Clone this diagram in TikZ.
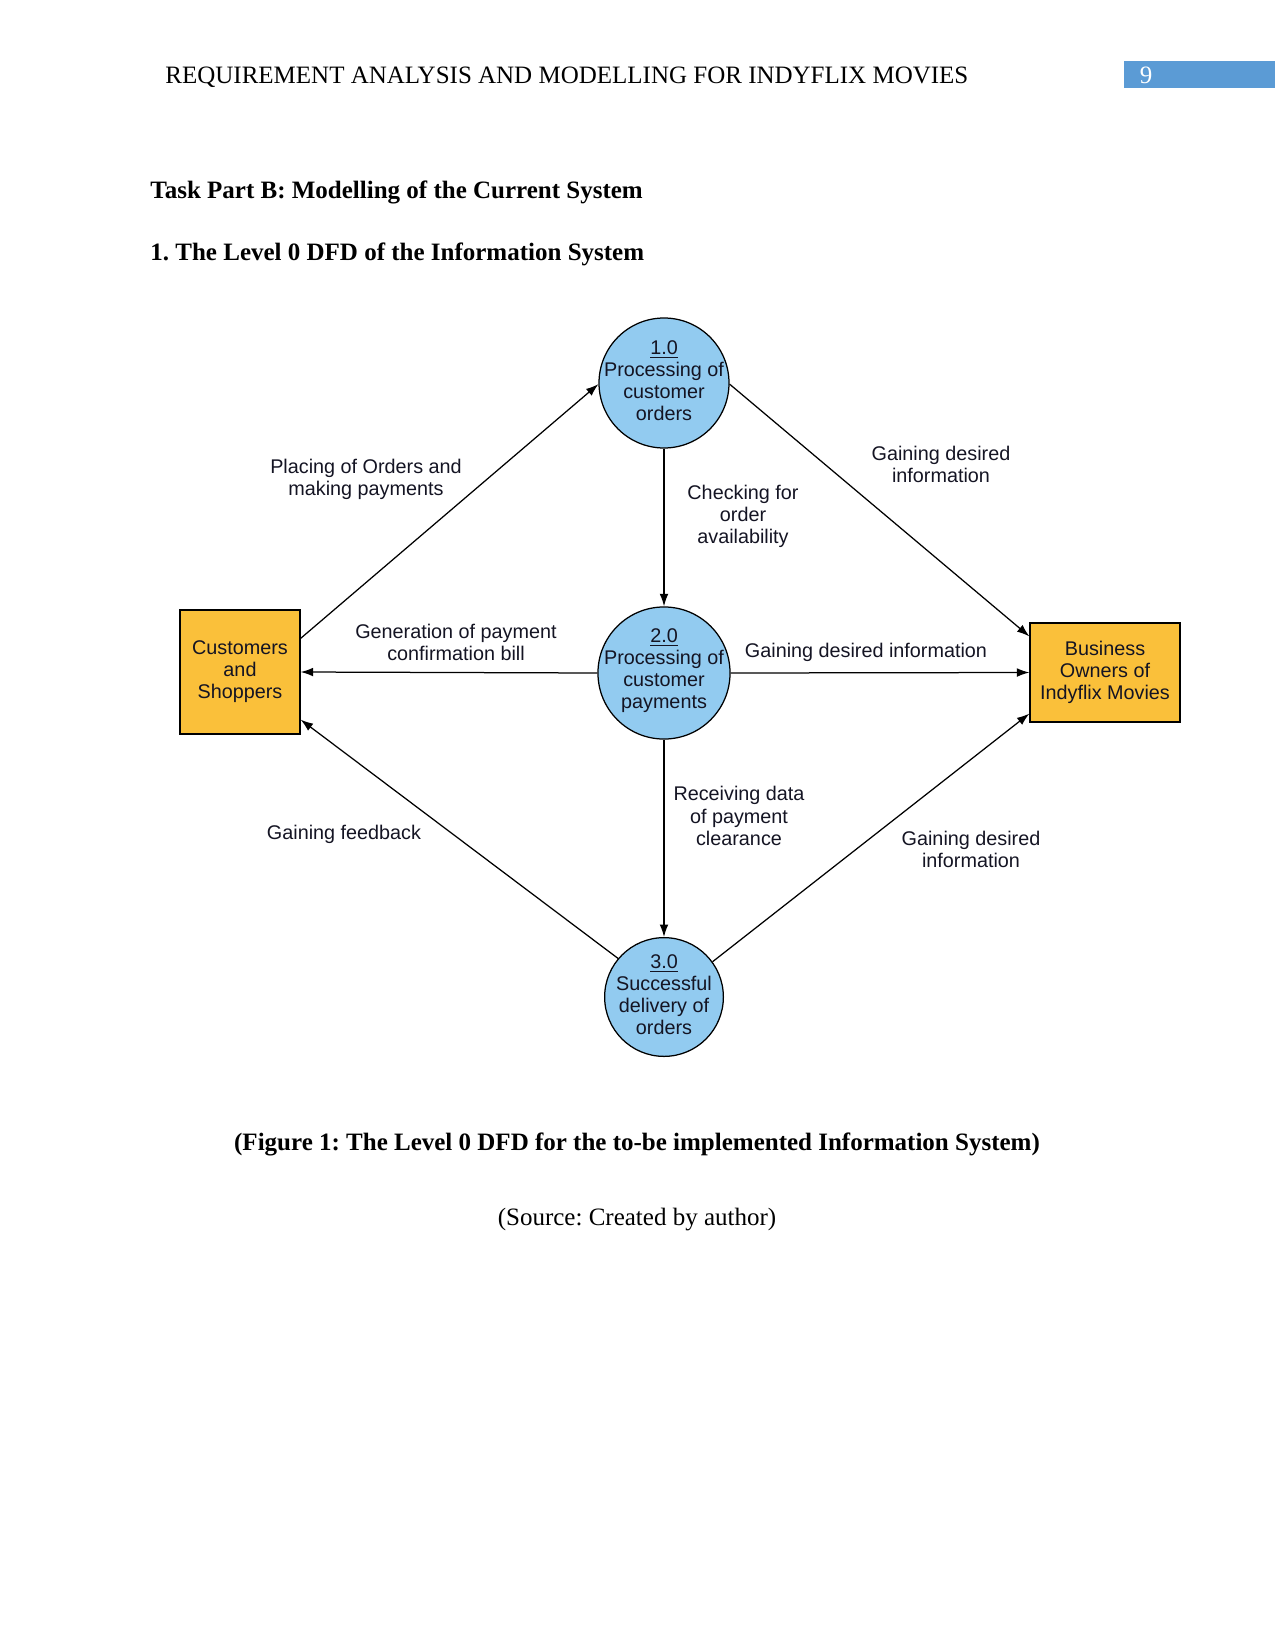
\documentclass[tikz,border=0pt]{standalone}
\usepackage{fontspec}
\setmainfont{Liberation Serif}
\newfontfamily\arialf{Liberation Sans}
\usetikzlibrary{arrows.meta,calc}
\frenchspacing
\definecolor{procblue}{RGB}{146,203,240}
\definecolor{entorange}{RGB}{250,192,58}
\definecolor{hdrblue}{RGB}{91,155,213}
\definecolor{txtdark}{RGB}{20,20,35}
\begin{document}
\begin{tikzpicture}[x=0.48pt,y=-0.48pt,
  proc/.style={circle,draw=black,line width=0.6pt,fill=procblue,inner sep=0pt},
  proctxt/.style={align=center,inner sep=0pt,font=\arialf\fontsize{9.5}{10.6}\selectfont,text=txtdark},
  ent/.style={rectangle,draw=black,line width=0.6pt,fill=entorange,inner sep=0pt,align=center,
    font=\arialf\fontsize{9.5}{10.6}\selectfont,text=txtdark},
  lbl/.style={align=center,font=\arialf\fontsize{9.5}{10.6}\selectfont,text=txtdark,inner sep=1pt},
  flow/.style={draw=black,line width=0.6pt,-{Latex[length=6pt,width=4.2pt]}},
  head/.style={anchor=west,inner sep=0pt,font=\fontsize{12}{14}\selectfont}
]
\useasboundingbox (0,0) rectangle (1275,1651);
% page header
\node[head] (hdr) at (165,77) {REQUIREMENT ANALYSIS AND MODELLING FOR INDYFLIX MOVIES};
\fill[hdrblue] (1124,61) rectangle (1275,88);
\node[anchor=center,text=white,font=\fontsize{12}{14}\selectfont,inner sep=0pt] (pg) at (1146,75) {9};
% headings
\node[head,font=\bfseries\fontsize{12}{14}\selectfont] (h1) at (150,192) {Task Part B: Modelling of the Current System};
\node[head,font=\bfseries\fontsize{12}{14}\selectfont] (h2) at (150,254) {1. The Level 0 DFD of the Information System};
% processes
\node[proc,minimum size=62.4pt] (p1) at (664,383) {};
\node[proctxt] (t1) at (664,381) {\underline{1.0}\\Processing of\\customer\\orders};
\node[proc,minimum size=63.4pt] (p2) at (664,673) {};
\node[proctxt] (t2) at (664,671) {\underline{2.0}\\Processing of\\customer\\payments};
\node[proc,minimum size=57pt] (p3) at (664,997) {};
\node[proctxt] (t3) at (664,995) {\underline{3.0}\\Successful\\delivery of\\orders};
% entities
\node[ent,minimum width=57.6pt,minimum height=59.5pt] (cust) at (240,672) {Customers\\and\\Shoppers};
\node[ent,minimum width=72pt,minimum height=47.5pt] (biz) at (1105,672.5) {Business\\Owners of\\Indyflix Movies};
% flows
\draw[flow] ($(cust.north east)+(0,29)$) -- (p1.181);
\draw[flow] (p1.-1) -- ($(biz.north west)+(0,14)$);
\draw[flow] (p1.south) -- (p2.north);
\draw[flow] (p2.west) -- (cust.east);
\draw[flow] (p2.east) -- (biz.west);
\draw[flow] (p2.south) -- (p3.north);
\draw[flow] (p3.140) -- ($(cust.south east)+(0,-15)$);
\draw[flow] (p3.36) -- ($(biz.south west)+(0,-9)$);
% flow labels
\node[lbl] (l1) at (366,479) {Placing of Orders and\\making payments};
\node[lbl] (l2) at (743,516) {Checking for\\order\\availability};
\node[lbl] (l3) at (941,464) {Gaining desired\\information};
\node[lbl] (l4) at (456,642) {Generation of payment\\confirmation bill};
\node[lbl] (l5) at (866,652) {Gaining desired information};
\node[lbl] (l6) at (344,834) {Gaining feedback};
\node[lbl] (l7) at (739,816) {Receiving data\\of payment\\clearance};
\node[lbl] (l8) at (971,849) {Gaining desired\\information};
% caption
\node[inner sep=0pt,font=\bfseries\fontsize{12}{14}\selectfont] (cap) at (637,1144) {(Figure 1: The Level 0 DFD for the to-be implemented Information System)};
\node[inner sep=0pt,font=\fontsize{12}{14}\selectfont] (src) at (637,1220) {(Source: Created by author)};
\end{tikzpicture}
\end{document}
